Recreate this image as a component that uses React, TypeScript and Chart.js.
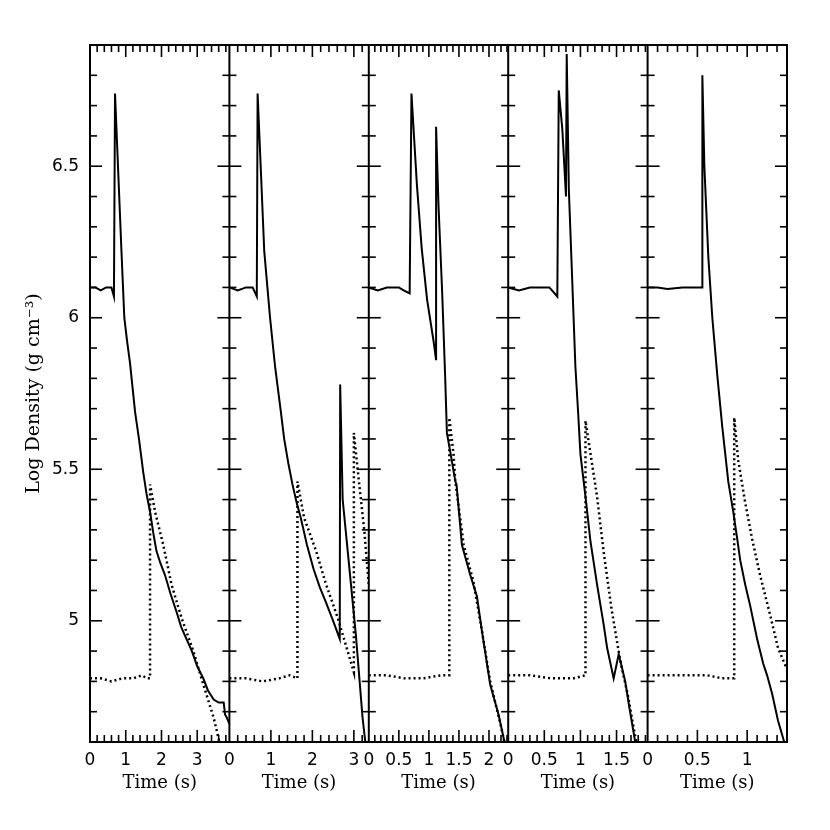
import { useEffect, useRef } from "react";
import { Chart, registerables } from "chart.js";

Chart.register(...registerables);

// axis ranges of the five panels (time in s)
const panelMax = [3.9, 3.36, 2.32, 1.93, 1.4];
const majorStep = [1, 1, 0.5, 0.5, 0.5];
const minorStep = [0.2, 0.2, 0.1, 0.1, 0.1];

const densityMin = 4.6;
const densityMax = 6.9;
const densityStep = 0.5;
const densityMinor = 0.1;

// panel 1
const p1SolidT = [0, 0.15, 0.3, 0.45, 0.6, 0.67, 0.7, 0.88, 0.96, 1.04, 1.12, 1.19, 1.26, 1.37, 1.49, 1.58, 1.68, 1.77, 1.86, 1.97, 2.1, 2.25, 2.42, 2.55, 2.66, 2.85, 3.0, 3.17, 3.3, 3.46, 3.6, 3.74, 3.78, 3.83, 3.9];
const p1SolidD = [6.1, 6.1, 6.09, 6.1, 6.1, 6.07, 6.74, 6.22, 6.0, 5.92, 5.85, 5.77, 5.69, 5.6, 5.49, 5.42, 5.36, 5.29, 5.23, 5.19, 5.15, 5.09, 5.03, 4.98, 4.95, 4.9, 4.85, 4.81, 4.77, 4.74, 4.73, 4.73, 4.69, 4.68, 4.66];
const p1DotT = [0, 0.3, 0.6, 0.9, 1.2, 1.45, 1.6, 1.68, 1.68, 1.82, 2.05, 2.28, 2.56, 2.89, 3.17, 3.46, 3.66];
const p1DotD = [4.81, 4.81, 4.8, 4.81, 4.81, 4.82, 4.81, 4.81, 5.45, 5.36, 5.25, 5.12, 5.01, 4.9, 4.79, 4.68, 4.58];

// panel 2
const p2SolidT = [0, 0.2, 0.4, 0.56, 0.66, 0.68, 0.84, 0.98, 1.1, 1.24, 1.32, 1.42, 1.52, 1.62, 1.72, 1.87, 2.03, 2.18, 2.33, 2.5, 2.66, 2.67, 2.73, 2.93, 3.05, 3.21, 3.3];
const p2SolidD = [6.1, 6.09, 6.1, 6.1, 6.07, 6.74, 6.22, 6.0, 5.84, 5.69, 5.6, 5.52, 5.45, 5.39, 5.34, 5.25, 5.17, 5.11, 5.06, 5.0, 4.94, 5.78, 5.4, 5.12, 4.95, 4.68, 4.57];
const p2DotT = [0, 0.4, 0.8, 1.2, 1.45, 1.64, 1.64, 1.8, 2.09, 2.33, 2.61, 2.85, 3.0, 3.0, 3.13, 3.25, 3.36];
const p2DotD = [4.81, 4.81, 4.8, 4.81, 4.82, 4.81, 5.46, 5.34, 5.23, 5.12, 5.01, 4.9, 4.83, 5.62, 5.45, 5.3, 5.12];

// panel 3
const p3SolidT = [0, 0.15, 0.3, 0.5, 0.58, 0.68, 0.71, 0.8, 0.88, 0.97, 1.08, 1.12, 1.12, 1.16, 1.22, 1.27, 1.3, 1.38, 1.44, 1.46, 1.55, 1.69, 1.8, 1.88, 2.02, 2.16, 2.28];
const p3SolidD = [6.1, 6.09, 6.1, 6.1, 6.09, 6.08, 6.74, 6.44, 6.23, 6.06, 5.92, 5.86, 6.63, 6.37, 6.09, 5.81, 5.62, 5.53, 5.46, 5.45, 5.25, 5.15, 5.08, 4.97, 4.79, 4.69, 4.58];
const p3DotT = [0, 0.3, 0.6, 0.9, 1.2, 1.34, 1.34, 1.41, 1.44, 1.58, 1.74, 1.88, 2.02, 2.19, 2.28];
const p3DotD = [4.82, 4.82, 4.81, 4.81, 4.82, 4.82, 5.67, 5.55, 5.46, 5.25, 5.13, 4.97, 4.8, 4.66, 4.58];

// panel 4
const p4SolidT = [0, 0.15, 0.3, 0.5, 0.57, 0.68, 0.7, 0.75, 0.8, 0.81, 0.84, 0.89, 0.93, 0.97, 1.0, 1.07, 1.14, 1.23, 1.32, 1.37, 1.46, 1.53, 1.62, 1.68, 1.78];
const p4SolidD = [6.1, 6.09, 6.1, 6.1, 6.1, 6.07, 6.75, 6.62, 6.4, 6.87, 6.42, 6.1, 5.84, 5.68, 5.55, 5.41, 5.26, 5.12, 4.99, 4.91, 4.81, 4.89, 4.8, 4.71, 4.57];
const p4DotT = [0, 0.3, 0.6, 0.9, 1.07, 1.07, 1.14, 1.23, 1.32, 1.43, 1.55, 1.66, 1.78];
const p4DotD = [4.82, 4.82, 4.81, 4.81, 4.82, 5.66, 5.55, 5.41, 5.23, 5.04, 4.87, 4.75, 4.59];

// panel 5
const p5SolidT = [0, 0.1, 0.2, 0.35, 0.5, 0.55, 0.55, 0.57, 0.61, 0.65, 0.7, 0.75, 0.78, 0.81, 0.86, 0.9, 0.93, 0.98, 1.03, 1.1, 1.16, 1.2, 1.25, 1.31, 1.39];
const p5SolidD = [6.1, 6.1, 6.095, 6.1, 6.1, 6.1, 6.8, 6.5, 6.2, 6.0, 5.81, 5.64, 5.55, 5.46, 5.36, 5.27, 5.2, 5.12, 5.05, 4.94, 4.86, 4.82, 4.76, 4.67, 4.58];
const p5DotT = [0, 0.2, 0.4, 0.6, 0.75, 0.87, 0.87, 0.91, 0.98, 1.05, 1.13, 1.23, 1.31, 1.4];
const p5DotD = [4.82, 4.82, 4.82, 4.82, 4.81, 4.81, 5.67, 5.53, 5.39, 5.27, 5.15, 5.02, 4.91, 4.84];

const solidT = [p1SolidT, p2SolidT, p3SolidT, p4SolidT, p5SolidT];
const solidD = [p1SolidD, p2SolidD, p3SolidD, p4SolidD, p5SolidD];
const dotT = [p1DotT, p2DotT, p3DotT, p4DotT, p5DotT];
const dotD = [p1DotD, p2DotD, p3DotD, p4DotD, p5DotD];

const fmt = (v: number | string) => String(+Number(v).toFixed(2));

const isMultiple = (v: number, step: number) => Math.abs(v / step - Math.round(v / step)) < 1e-6;

// inward tick marks on every side of every panel, plus the frames
const frameTicks = {
  id: "frameTicks",
  afterDraw(chart: any) {
    const { ctx, chartArea } = chart;
    const { top, bottom } = chartArea;
    const ys = chart.scales.y;
    ctx.save();
    ctx.strokeStyle = "#000";
    ctx.lineWidth = 1.6;
    const seg = (x1: number, y1: number, x2: number, y2: number) => {
      ctx.beginPath();
      ctx.moveTo(x1, y1);
      ctx.lineTo(x2, y2);
      ctx.stroke();
    };
    panelMax.forEach((max, i) => {
      const sx = chart.scales["x" + i];
      const l = sx.left;
      const r = sx.right;
      for (let k = 1; k * minorStep[i] < max - 1e-6; k++) {
        const v = k * minorStep[i];
        const px = sx.getPixelForValue(v);
        const len = isMultiple(v, majorStep[i]) ? 12 : 7;
        seg(px, bottom, px, bottom - len);
        seg(px, top, px, top + len);
      }
      for (let k = Math.ceil(densityMin / densityMinor + 1e-6); k * densityMinor < densityMax - 1e-6; k++) {
        const v = k * densityMinor;
        const py = ys.getPixelForValue(v);
        const len = isMultiple(v, densityStep) ? 12 : 7;
        seg(l, py, l + len, py);
        seg(r - len, py, r, py);
      }
    });
    ctx.lineWidth = 2;
    ctx.strokeRect(chartArea.left, top, chartArea.right - chartArea.left, bottom - top);
    panelMax.forEach((_, i) => {
      if (i === 0) return;
      const sx = chart.scales["x" + i];
      seg(sx.left, top, sx.left, bottom);
    });
    ctx.restore();
  },
};

export default function App() {
  const canvasRef = useRef<HTMLCanvasElement>(null);
  const chartRef = useRef<Chart | null>(null);

  useEffect(() => {
    if (!canvasRef.current) return;
    if (chartRef.current) chartRef.current.destroy();

    const datasets: any[] = [];
    const scales: any = {
      y: {
        type: "linear",
        position: "left",
        min: densityMin,
        max: densityMax,
        grid: { display: false, drawTicks: false },
        border: { display: false },
        ticks: {
          stepSize: densityStep,
          includeBounds: false,
          padding: 11,
          color: "#000",
          font: { family: "DejaVu Sans", size: 17 },
          callback: fmt,
        },
        title: {
          display: true,
          text: "Log Density (g cm\u207B\u00B3)",
          color: "#000",
          font: { family: "DejaVu Serif", size: 19 },
          padding: { top: 23, bottom: 0 },
        },
        afterFit: (s: any) => {
          s.width = 90;
        },
      },
    };

    panelMax.forEach((max, i) => {
      const id = "x" + i;
      scales[id] = {
        type: "linear",
        position: "bottom",
        stack: "time",
        stackWeight: 1,
        min: 0,
        max,
        offset: false,
        grid: { display: false, drawTicks: false },
        border: { display: false },
        ticks: {
          stepSize: majorStep[i],
          includeBounds: false,
          autoSkip: false,
          maxRotation: 0,
          padding: 8,
          color: "#000",
          font: { family: "DejaVu Sans", size: 17 },
          callback: fmt,
        },
        title: {
          display: true,
          text: "Time (s)",
          color: "#000",
          font: { family: "DejaVu Serif", size: 18 },
          padding: { top: 0, bottom: 36 },
        },
        afterFit: (s: any) => {
          s.height = 88;
        },
      };
      datasets.push({
        label: "dotted " + (i + 1),
        data: dotT[i].map((t, k) => ({ x: t, y: dotD[i][k] })),
        xAxisID: id,
        yAxisID: "y",
        borderColor: "#000",
        borderWidth: 2.5,
        borderDash: [2, 3],
        pointRadius: 0,
        fill: false,
        tension: 0,
      });
      datasets.push({
        label: "solid " + (i + 1),
        data: solidT[i].map((t, k) => ({ x: t, y: solidD[i][k] })),
        xAxisID: id,
        yAxisID: "y",
        borderColor: "#000",
        borderWidth: 2,
        pointRadius: 0,
        fill: false,
        tension: 0,
      });
    });

    chartRef.current = new Chart(canvasRef.current, {
      type: "line",
      data: { datasets },
      options: {
        responsive: false,
        animation: false,
        layout: { padding: { top: 45, right: 43, left: 0, bottom: 0 } },
        plugins: {
          legend: { display: false },
          tooltip: { enabled: false },
        },
        scales,
      },
      plugins: [frameTicks],
    });

    return () => {
      if (chartRef.current) {
        chartRef.current.destroy();
        chartRef.current = null;
      }
    };
  }, []);

  return (
    <div style={{ position: "absolute", left: 0, top: 0, width: 830, height: 830, background: "#fff" }}>
      <canvas ref={canvasRef} width={830} height={830} />
    </div>
  );
}
